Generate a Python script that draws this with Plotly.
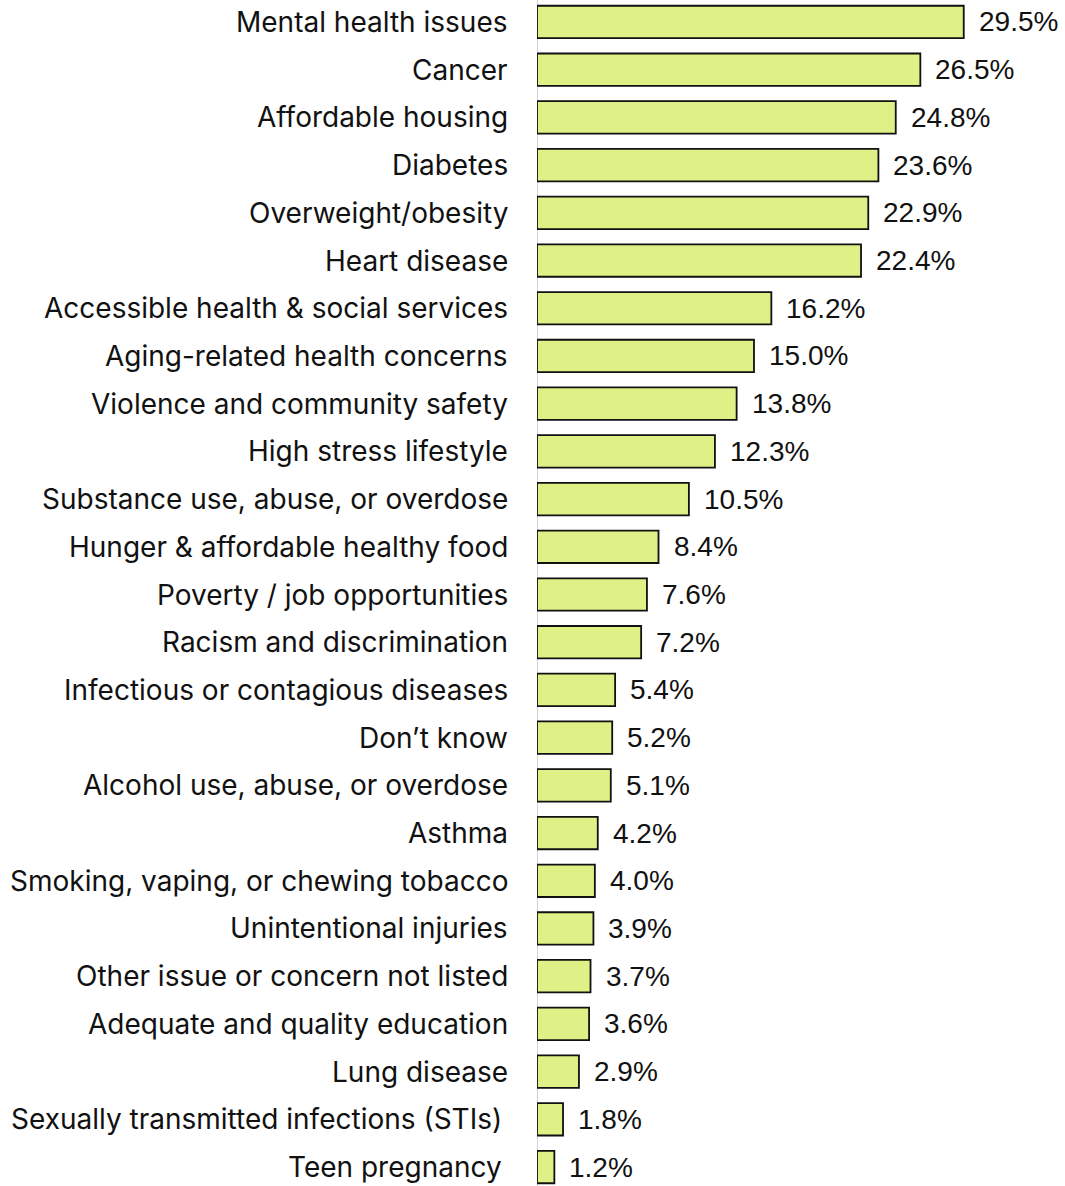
import plotly.graph_objects as go

categories = [
    "Mental health issues", "Cancer", "Affordable housing", "Diabetes",
    "Overweight/obesity", "Heart disease", "Accessible health & social services",
    "Aging-related health concerns", "Violence and community safety",
    "High stress lifestyle", "Substance use, abuse, or overdose",
    "Hunger & affordable healthy food", "Poverty / job opportunities",
    "Racism and discrimination", "Infectious or contagious diseases",
    "Don\u2019t know", "Alcohol use, abuse, or overdose", "Asthma",
    "Smoking, vaping, or chewing tobacco", "Unintentional injuries",
    "Other issue or concern not listed", "Adequate and quality education",
    "Lung disease", "Sexually transmitted infections (STIs)", "Teen pregnancy",
]
values = [29.5, 26.5, 24.8, 23.6, 22.9, 22.4, 16.2, 15.0, 13.8, 12.3, 10.5,
          8.4, 7.6, 7.2, 5.4, 5.2, 5.1, 4.2, 4.0, 3.9, 3.7, 3.6, 2.9, 1.8, 1.2]
value_labels = [f"{v:.1f}%" for v in values]

idx = list(range(len(categories)))

fig = go.Figure(go.Bar(
    x=values, y=idx, orientation="h",
    marker=dict(color="#dff086", line=dict(color="#111111", width=1.8)),
    width=0.68,
    hoverinfo="skip",
))

# value labels just right of each bar
for i, (v, t) in enumerate(zip(values, value_labels)):
    fig.add_annotation(x=v, y=i, text=t, showarrow=False, xanchor="left",
                       xshift=13, font=dict(family="Liberation Sans", size=28, color="#111111"))

# category labels, right-aligned against the axis
for i, c in enumerate(categories):
    shift = -27 if i < 23 else -33
    fig.add_annotation(x=0, y=i, xref="x", text=c, showarrow=False, xanchor="right",
                       xshift=shift, font=dict(family="Inter", size=28, color="#111111"))

fig.update_layout(
    width=1065, height=1186,
    margin=dict(l=537, r=0, t=0, b=0),
    plot_bgcolor="white", paper_bgcolor="white",
    showlegend=False,
    xaxis=dict(range=[0, 36.5], visible=False, fixedrange=True),
    yaxis=dict(range=[24.398, -0.461], showticklabels=False, showgrid=False,
               zeroline=False, ticks="", fixedrange=True),
    shapes=[dict(type="line", xref="x", yref="paper", x0=0, x1=0, y0=0, y1=1,
                 line=dict(color="#d4d4d4", width=2), layer="below")],
)

fig.write_html("out.html")
